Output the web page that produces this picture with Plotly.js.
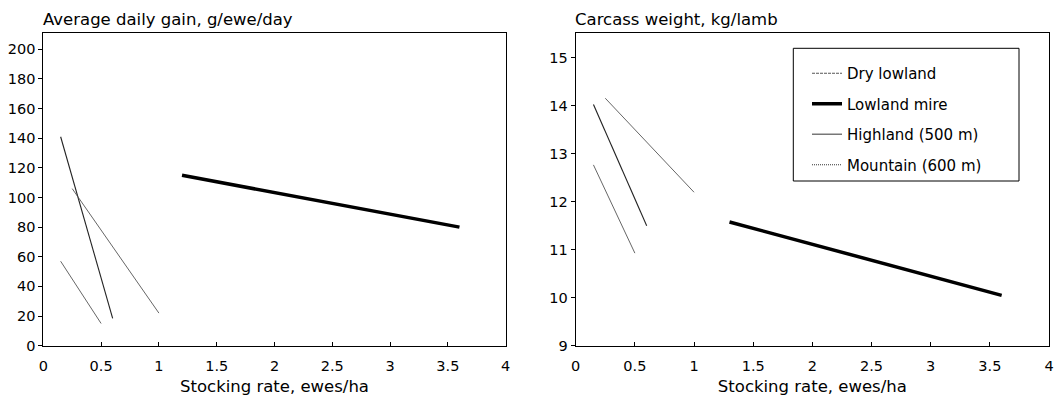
<!DOCTYPE html>
<html><head><meta charset="utf-8">
<script src="https://cdn.plot.ly/plotly-3.0.1.min.js"></script>
<style>html,body{margin:0;padding:0;background:#fff;}#chart{width:1060px;height:396px;}</style>
</head><body><div id="chart"></div>
<script>
// Series names
const seriesNames = ["Dry lowland", "Lowland mire", "Highland (500 m)", "Mountain (600 m)"];
// Average daily gain, g/ewe/day
const adgDryX = [0.15, 0.5],  adgDryY = [57, 15];
const adgMireX = [1.2, 3.6],  adgMireY = [115, 80];
const adgHighX = [0.15, 0.6], adgHighY = [141, 18.5];
const adgMtnX = [0.25, 1.0],  adgMtnY = [106, 22];
// Carcass weight, kg/lamb
const cwDryX = [0.15, 0.5],   cwDryY = [12.77, 10.93];
const cwMireX = [1.3, 3.6],   cwMireY = [11.58, 10.05];
const cwHighX = [0.15, 0.6],  cwHighY = [14.03, 11.5];
const cwMtnX = [0.25, 1.0],   cwMtnY = [14.16, 12.2];
// Axis ticks
const xTicks = [0, 0.5, 1, 1.5, 2, 2.5, 3, 3.5, 4];
const adgTicks = [0, 20, 40, 60, 80, 100, 120, 140, 160, 180, 200];
const cwTicks = [9, 10, 11, 12, 13, 14, 15];

const FONT = "DejaVu Sans, sans-serif";
const styles = [
  {color: "#555", width: 0.9},
  {color: "#000", width: 3.5},
  {color: "#222", width: 1.1},
  {color: "#555", width: 0.9}
];
const legendStyles = [
  {color: "#555", width: 1, dash: "3px,1px"},
  {color: "#000", width: 3.5},
  {color: "#777", width: 1.5},
  {color: "#333", width: 1, dash: "1px,1px"}
];

const adgSets = [[adgDryX, adgDryY], [adgMireX, adgMireY], [adgHighX, adgHighY], [adgMtnX, adgMtnY]];
const cwSets = [[cwDryX, cwDryY], [cwMireX, cwMireY], [cwHighX, cwHighY], [cwMtnX, cwMtnY]];

const traces = [];
adgSets.forEach((s, i) => traces.push({x: s[0], y: s[1], xaxis: "x", yaxis: "y", mode: "lines",
  line: styles[i], showlegend: false, hoverinfo: "skip"}));
cwSets.forEach((s, i) => traces.push({x: s[0], y: s[1], xaxis: "x2", yaxis: "y2", mode: "lines",
  line: styles[i], showlegend: false, hoverinfo: "skip"}));
seriesNames.forEach((n, i) => traces.push({x: [null], y: [null], xaxis: "x2", yaxis: "y2", mode: "lines",
  name: n, line: legendStyles[i], showlegend: true, legendgroup: "g" + i}));

const xCommon = {range: [0, 4], tickvals: xTicks, ticktext: xTicks.map(String), ticks: "inside", ticklen: 4,
  showline: true, linecolor: "#000", linewidth: 1, mirror: true, showgrid: false, zeroline: false,
  tickcolor: "#000", ticklabelstandoff: 7,
  title: {text: "Stocking rate, ewes/ha", font: {size: 16.5, family: FONT, color: "#000"}, standoff: 7},
  tickfont: {size: 14.5, family: FONT, color: "#000"}};
const yCommon = {ticks: "outside", ticklen: 4, showline: true, linecolor: "#000", linewidth: 1, mirror: true,
  showgrid: false, zeroline: false, tickcolor: "#000", ticklabelstandoff: 0,
  tickfont: {size: 14.5, family: FONT, color: "#000"}};

const layout = {
  width: 1060, height: 396, margin: {l: 0, r: 0, t: 0, b: 0},
  paper_bgcolor: "#fff", plot_bgcolor: "#fff", font: {family: FONT, color: "#000"},
  xaxis: Object.assign({}, xCommon, {domain: [43.3/1060, 505.7/1060], anchor: "y"}),
  yaxis: Object.assign({}, yCommon, {domain: [50.3/396, 363/396], range: [0, 211], tickvals: adgTicks, anchor: "x"}),
  xaxis2: Object.assign({}, xCommon, {domain: [575.7/1060, 1049/1060], anchor: "y2"}),
  yaxis2: Object.assign({}, yCommon, {domain: [50.3/396, 363/396], range: [9, 15.52], tickvals: cwTicks, anchor: "x2"}),
  showlegend: true,
  legend: {x: 807/1060, y: (396-57)/396, xanchor: "left", yanchor: "top", bgcolor: "rgba(0,0,0,0)",
    borderwidth: 0, itemwidth: 30, traceorder: "grouped", tracegroupgap: 8,
    font: {size: 15, family: FONT, color: "#000"}},
  shapes: [{type: "rect", xref: "paper", yref: "paper", x0: 793.3/1060, x1: 1019/1060,
    y0: (396-181)/396, y1: (396-48.3)/396, line: {color: "#000", width: 1}, fillcolor: "rgba(0,0,0,0)"}],
  annotations: [
    {text: "Average daily gain, g/ewe/day", xref: "paper", yref: "paper", x: 41/1060, y: (396-19)/396,
      xanchor: "left", yanchor: "middle", showarrow: false, font: {size: 16.5, family: FONT, color: "#000"}},
    {text: "Carcass weight, kg/lamb", xref: "paper", yref: "paper", x: 573/1060, y: (396-19)/396,
      xanchor: "left", yanchor: "middle", showarrow: false, font: {size: 16.5, family: FONT, color: "#000"}}
  ]
};
Plotly.newPlot("chart", traces, layout, {staticPlot: true, displayModeBar: false});
</script></body></html>
